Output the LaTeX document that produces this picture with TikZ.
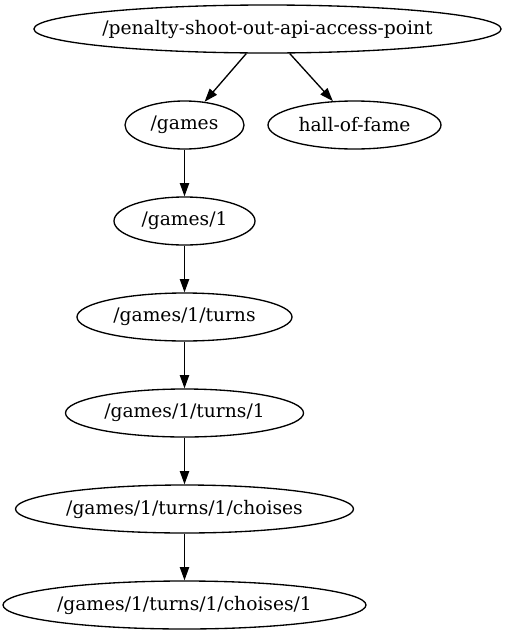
\documentclass[tikz,border=0pt]{standalone}
\usepackage{fontspec}
\setmainfont{DejaVu Serif}
\usetikzlibrary{arrows.meta,shapes.geometric}
\tikzset{
  gnode/.style={draw, ellipse, line width=1.33pt, inner sep=0pt, minimum height=48pt, font=\fontsize{18.67}{22}\selectfont},
  gedge/.style={line width=1.33pt, -{Triangle[length=13.3pt,width=9.3pt]}}
}
\begin{document}
\begin{tikzpicture}[x=1pt,y=-1pt]
\useasboundingbox (0,0) rectangle (504,635);
\node[gnode, minimum width=461pt] (root) at (267.5,29) {/penalty-shoot-out-api-access-point};
\node[gnode, minimum width=119pt] (games) at (184.5,125) {/games};
\node[gnode, minimum width=173pt] (hof) at (354.5,125) {hall-of-fame};
\node[gnode, minimum width=141pt] (g1) at (184.5,221) {/games/1};
\node[gnode, minimum width=215pt] (turns) at (184.5,317) {/games/1/turns};
\node[gnode, minimum width=238pt] (t1) at (184.5,413) {/games/1/turns/1};
\node[gnode, minimum width=338pt] (ch) at (184.5,509) {/games/1/turns/1/choises};
\node[gnode, minimum width=363pt] (ch1) at (184.5,605) {/games/1/turns/1/choises/1};
\draw[gedge] (root) -- (games);
\draw[gedge] (root) -- (hof);
\draw[gedge] (games) -- (g1);
\draw[gedge] (g1) -- (turns);
\draw[gedge] (turns) -- (t1);
\draw[gedge] (t1) -- (ch);
\draw[gedge] (ch) -- (ch1);
\end{tikzpicture}
\end{document}
